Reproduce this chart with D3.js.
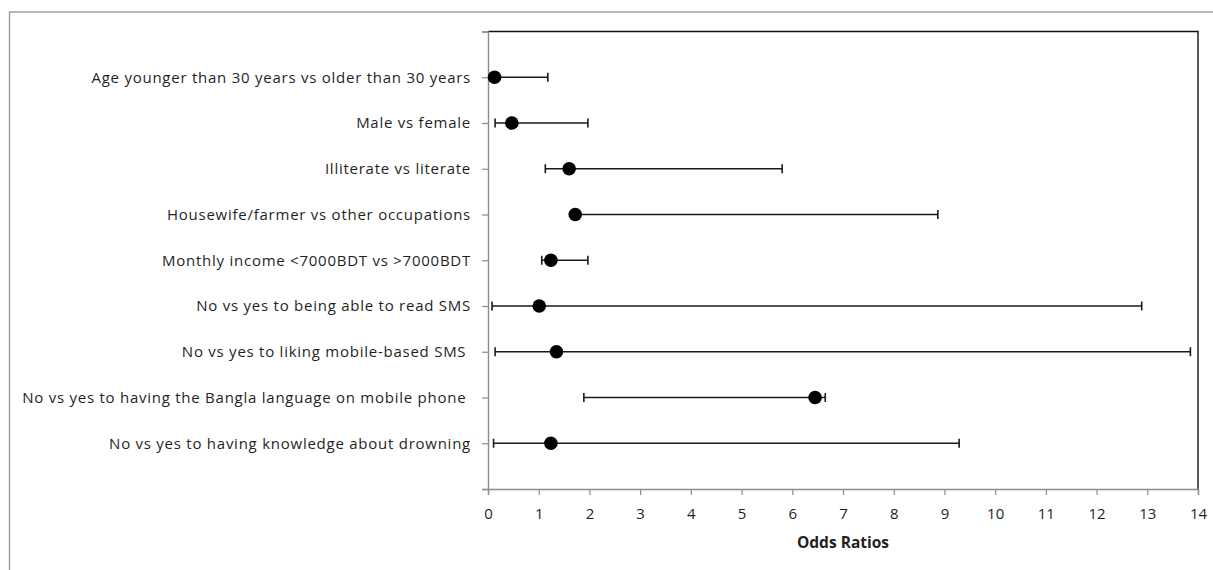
<!DOCTYPE html>
<html>
<head>
<meta charset="utf-8">
<script src="https://cdn.jsdelivr.net/npm/d3@7"></script>
<style>
  body { margin: 0; background: #fff; }
  text { font-family: "Open Sans", Lato, sans-serif; fill: #1f1f1f; }
</style>
</head>
<body>
<div id="chart"></div>
<script>
// categories, top to bottom
const categories = [
  "Age younger than 30 years vs older than 30 years",
  "Male vs female",
  "Illiterate vs literate",
  "Housewife/farmer vs other occupations",
  "Monthly income <7000BDT vs >7000BDT",
  "No vs yes to being able to read SMS",
  "No vs yes to liking mobile-based SMS ",
  "No vs yes to having the Bangla language on mobile phone ",
  "No vs yes to having knowledge about drowning"
];
const oddsRatio = [0.13, 0.47, 1.60, 1.72, 1.24, 1.01, 1.35, 6.45, 1.24];
const lowerCI   = [0.04, 0.14, 1.13, 1.66, 1.06, 0.08, 0.14, 1.89, 0.11];
const upperCI   = [1.18, 1.97, 5.80, 8.87, 1.97, 12.89, 13.85, 6.65, 9.29];
const xTicks = [0, 1, 2, 3, 4, 5, 6, 7, 8, 9, 10, 11, 12, 13, 14];
const xTitle = "Odds Ratios";

const width = 1213, height = 570;
const plot = { left: 488, right: 1198, top: 31.5, bottom: 489 };

const svg = d3.select("#chart").append("svg")
    .attr("width", width)
    .attr("height", height);

// outer frame of the figure (only left and top edges fall inside the picture)
svg.append("path")
    .attr("d", `M9.5,${height + 2} V12 H${width + 2}`)
    .attr("fill", "none")
    .attr("stroke", "#a0a0a0")
    .attr("stroke-width", 1.5);

const x = d3.scaleLinear().domain([0, 14]).range([plot.left, plot.right]);
// categories sit on y = 9 ... 1, axis runs 0..10
const y = d3.scaleLinear().domain([0, 10]).range([plot.bottom, plot.top]);
const yPos = i => y(categories.length - i);

// top and right border of the plot area
svg.append("path")
    .attr("d", `M${plot.left},${plot.top} H${plot.right} V${plot.bottom}`)
    .attr("fill", "none")
    .attr("stroke", "#111")
    .attr("stroke-width", 1.4);

const xAxis = svg.append("g")
    .attr("transform", `translate(0,${plot.bottom})`)
    .call(d3.axisBottom(x).tickValues(xTicks).tickSize(6).tickPadding(13).tickFormat(d3.format("d")));

const yAxis = svg.append("g")
    .attr("transform", `translate(${plot.left},0)`)
    .call(d3.axisLeft(y).tickValues(d3.range(0, 11)).tickSize(6).tickPadding(11)
        .tickFormat(d => (d >= 1 && d <= 9) ? categories[categories.length - d] : ""));

[xAxis, yAxis].forEach(g => {
    g.select(".domain").attr("stroke", "#8c8c8c").attr("stroke-width", 1.4);
    g.selectAll(".tick line").attr("stroke", "#8c8c8c").attr("stroke-width", 1.2);
    g.selectAll(".tick text")
        .attr("font-family", "'Open Sans', Lato, sans-serif")
        .attr("font-size", 15)
        .attr("fill", "#1f1f1f")
        .style("white-space", "pre");
});
yAxis.selectAll(".tick text").attr("letter-spacing", 0.75);

svg.append("text")
    .attr("x", (plot.left + plot.right) / 2)
    .attr("y", 548)
    .attr("text-anchor", "middle")
    .attr("font-size", 15.5)
    .attr("font-weight", "bold")
    .text(xTitle);

const rows = categories.map((c, i) => ({ c, or: oddsRatio[i], lo: lowerCI[i], hi: upperCI[i], i }));

const bars = svg.append("g").selectAll("g").data(rows).join("g")
    .attr("stroke", "#1a1a1a");

bars.append("line")
    .attr("x1", d => x(d.lo)).attr("x2", d => x(d.hi))
    .attr("y1", d => yPos(d.i)).attr("y2", d => yPos(d.i))
    .attr("stroke-width", 1.4);

bars.append("line")
    .attr("x1", d => x(d.lo)).attr("x2", d => x(d.lo))
    .attr("y1", d => yPos(d.i) - 4.5).attr("y2", d => yPos(d.i) + 4.5)
    .attr("stroke-width", 1.6);

bars.append("line")
    .attr("x1", d => x(d.hi)).attr("x2", d => x(d.hi))
    .attr("y1", d => yPos(d.i) - 4.5).attr("y2", d => yPos(d.i) + 4.5)
    .attr("stroke-width", 1.6);

svg.append("g").selectAll("circle").data(rows).join("circle")
    .attr("cx", d => x(d.or))
    .attr("cy", d => yPos(d.i))
    .attr("r", 6.8)
    .attr("fill", "#000");
</script>
</body>
</html>
